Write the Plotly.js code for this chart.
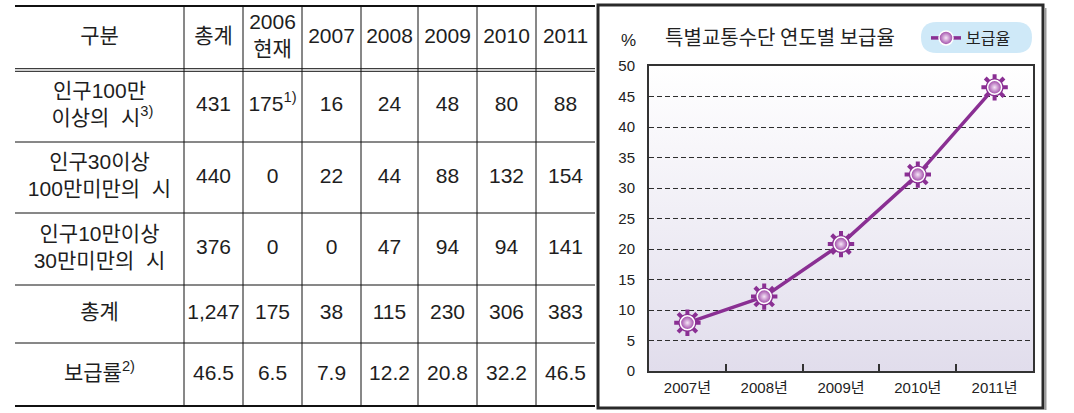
<!DOCTYPE html>
<html>
<head>
<meta charset="utf-8">
<script src="https://cdn.plot.ly/plotly-3.0.1.min.js"></script>
<style>
html,body{margin:0;padding:0;background:#fff;}
#chart{width:1074px;height:413px;}
</style>
</head>
<body>
<div id="chart"></div>
<script>
// ---------------- DATA ----------------
const colHeaders = ['구분', '총계', '2006<br>현재', '2007', '2008', '2009', '2010', '2011'];
const rowLabels = [
  '인구100만<br> 이상의\u00a0\u00a0시<sup>3)</sup>',
  '인구30이상<br>100만미만의\u00a0\u00a0시',
  '인구10만이상<br>30만미만의\u00a0\u00a0시',
  '총계',
  '보급률<sup>2)</sup>'
];
// values: 총계, 2006, 2007, 2008, 2009, 2010, 2011
const popOver100  = [431, 175, 16, 24, 48, 80, 88];
const pop30to100  = [440, 0, 22, 44, 88, 132, 154];
const pop10to30   = [376, 0, 0, 47, 94, 94, 141];
const totalRow    = [1247, 175, 38, 115, 230, 306, 383];
const rateRow     = [46.5, 6.5, 7.9, 12.2, 20.8, 32.2, 46.5];
const footnoteRow = 0, footnoteCol = 1, footnoteMark = '1)';

const chartYears = ['2007년', '2008년', '2009년', '2010년', '2011년'];
const chartRate = rateRow.slice(2);          // 2007..2011 보급률
const seriesName = '보급율';
const chartTitle = '특별교통수단 연도별 보급율';

// ---------------- LAYOUT GEOMETRY ----------------
const W = 1074, H = 413;
const px = x => x / W;
const py = y => 1 - y / H;
const FONT = 'Liberation Sans, "Noto Sans CJK KR", sans-serif';
const KFONT = '"Noto Sans CJK KR", Liberation Sans, sans-serif';
const TXT = '#1e1e1e';
const PURPLE = '#8a2f93';

// table box in page pixels; edges relative to it
const T = {left: 15, right: 595, top: 5, bottom: 407};
const colEdges = [0, 169, 228, 287, 346, 403, 462, 521, 580];
const rowEdges = [0, 65, 137, 208, 280, 338, 402];
const colMid = colEdges.slice(0, -1).map((e, i) => (e + colEdges[i + 1]) / 2);
const rowMid = rowEdges.slice(0, -1).map((e, i) => (e + rowEdges[i + 1]) / 2);

// chart plot area in page pixels
const P = {left: 649, right: 1033, top: 66, bottom: 371};

// ---------------- TABLE TEXT ----------------
const bodyRows = [popOver100, pop30to100, pop10to30, totalRow, rateRow];
const fmt = v => v >= 1000 ? v.toLocaleString('en-US') : String(v);
const tx = [], ty = [], tt = [];
colHeaders.forEach((h, c) => { tx.push(colMid[c]); ty.push(rowMid[0]); tt.push(h); });
bodyRows.forEach((row, r) => {
  tx.push(colMid[0]); ty.push(rowMid[r + 1]); tt.push(rowLabels[r]);
  row.forEach((v, c) => {
    let s = fmt(v);
    if (r === footnoteRow && c === footnoteCol) s += '<sup>' + footnoteMark + '</sup>';
    tx.push(colMid[c + 1]); ty.push(rowMid[r + 1]); tt.push(s);
  });
});

const tableTrace = {
  type: 'scatter', mode: 'text', xaxis: 'x2', yaxis: 'y2',
  x: tx, y: ty, text: tt, textposition: 'middle center',
  textfont: {family: FONT, size: 21, color: TXT},
  hoverinfo: 'skip', showlegend: false, cliponaxis: false
};

// ---------------- CHART TRACES ----------------
const xIdx = chartYears.map((_, i) => i);
const knobTrace = {
  type: 'scatter', mode: 'markers', x: xIdx, y: chartRate, showlegend: false, hoverinfo: 'skip',
  marker: {symbol: 'asterisk-open', size: 22, color: PURPLE, line: {color: PURPLE, width: 4}}
};
const diskTrace = {
  type: 'scatter', mode: 'markers', x: xIdx, y: chartRate, showlegend: false, hoverinfo: 'skip',
  marker: {symbol: 'circle', size: 18, color: PURPLE, line: {width: 0}}
};
const lineTrace = {
  type: 'scatter', mode: 'lines+markers', name: seriesName, x: xIdx, y: chartRate,
  line: {color: PURPLE, width: 3.5},
  marker: {symbol: 'circle', size: 14, color: '#9c43a5',
           gradient: {type: 'radial', color: '#f6e6f7'},
           line: {color: '#ffffff', width: 1.5}}
};

// ---------------- SHAPES ----------------
const shapes = [];
const tl = (x0, y0, x1, y1, w, c) => shapes.push({type: 'line', xref: 'x2', yref: 'y2',
  x0, y0, x1, y1, line: {color: c || '#111', width: w}});
tl(0, 0, 580, 0, 4);
tl(0, rowEdges[6], 583, rowEdges[6], 4);
tl(0, rowEdges[1] - 1.3, 580, rowEdges[1] - 1.3, 1);
tl(0, rowEdges[1] + 1.3, 580, rowEdges[1] + 1.3, 1);
[2, 3, 4, 5].forEach(r => tl(0, rowEdges[r], 580, rowEdges[r], 1));
colEdges.slice(1, -1).forEach(c => tl(c, 0, c, rowEdges[6], 1));

// chart outer frame
shapes.push({type: 'rect', xref: 'paper', yref: 'paper', x0: px(598), x1: px(1043), y0: py(408), y1: py(5),
  line: {color: '#2a2a2a', width: 3}, layer: 'above'});
shapes.push({type: 'line', xref: 'paper', yref: 'paper', x0: px(1045.5), x1: px(1045.5), y0: py(410), y1: py(8),
  line: {color: '#9a9a9a', width: 2}});
// legend pill
(function () {
  const x0 = 921, x1 = 1032, y0 = 22, y1 = 53, r = 15.5, ym = (y0 + y1) / 2;
  const P_ = (x, y) => px(x) + ',' + py(y);
  const path = 'M' + P_(x0 + r, y0) + ' L' + P_(x1 - r, y0) +
    ' Q' + P_(x1, y0) + ' ' + P_(x1, ym) + ' Q' + P_(x1, y1) + ' ' + P_(x1 - r, y1) +
    ' L' + P_(x0 + r, y1) + ' Q' + P_(x0, y1) + ' ' + P_(x0, ym) + ' Q' + P_(x0, y0) + ' ' + P_(x0 + r, y0) + ' Z';
  shapes.push({type: 'path', xref: 'paper', yref: 'paper', path: path,
    fillcolor: '#cfe9f8', line: {width: 0}, layer: 'below'});
})();

// gradient plot background
const gradSvg = "<svg xmlns='http://www.w3.org/2000/svg' width='10' height='100' preserveAspectRatio='none' viewBox='0 0 10 100'>" +
  "<defs><linearGradient id='g' x1='0' y1='0' x2='0' y2='1'><stop offset='0' stop-color='#ffffff'/>" +
  "<stop offset='1' stop-color='#e1ddec'/></linearGradient></defs><rect width='10' height='100' fill='url(#g)'/></svg>";
const gradSrc = 'data:image/svg+xml;charset=utf-8,' + encodeURIComponent(gradSvg);

const layout = {
  width: W, height: H,
  margin: {l: 0, r: 0, t: 0, b: 0, pad: 0},
  paper_bgcolor: '#ffffff', plot_bgcolor: 'rgba(0,0,0,0)',
  font: {family: FONT, color: TXT},
  title: {text: chartTitle, x: px(780), y: py(38), xanchor: 'center', yanchor: 'middle',
          xref: 'paper', yref: 'paper', font: {family: KFONT, size: 20, color: '#222'}},
  showlegend: true,
  legend: {x: px(926), y: py(38), xanchor: 'left', yanchor: 'middle', bgcolor: 'rgba(0,0,0,0)',
           borderwidth: 0, font: {family: KFONT, size: 16, color: '#222'}},
  xaxis: {domain: [px(P.left), px(P.right)], range: [-0.5, 4.5], anchor: 'y',
          tickmode: 'array', tickvals: xIdx, ticktext: chartYears, ticks: '',
          ticklabelstandoff: 2, tickfont: {family: FONT, size: 15, color: '#222'},
          showgrid: false, zeroline: false, showline: true, mirror: true,
          linecolor: '#333', linewidth: 2, fixedrange: true,
          minor: {tickmode: 'array', tickvals: [0.5, 1.5, 2.5, 3.5], ticks: 'inside',
                  ticklen: 7, tickwidth: 2, tickcolor: '#333', showgrid: false}},
  yaxis: {domain: [py(P.bottom), py(P.top)], range: [0, 50], anchor: 'x',
          tickmode: 'linear', tick0: 0, dtick: 5, ticks: '', ticklabelstandoff: 9,
          tickfont: {family: FONT, size: 15, color: '#222'},
          showgrid: true, gridcolor: '#2e2e2e', gridwidth: 1, griddash: '5px,3px',
          zeroline: false, showline: true, mirror: true, linecolor: '#333', linewidth: 2, fixedrange: true},
  xaxis2: {domain: [px(T.left), px(T.right)], range: [0, 580], anchor: 'y2', visible: false, fixedrange: true},
  yaxis2: {domain: [py(T.bottom), py(T.top)], range: [rowEdges[6], 0], anchor: 'x2', visible: false, fixedrange: true},
  annotations: [{text: '%', xref: 'paper', yref: 'paper', x: px(628), y: py(40), xanchor: 'center', yanchor: 'middle',
                 showarrow: false, font: {family: FONT, size: 17, color: '#222'}}],
  shapes: shapes,
  images: [{source: gradSrc, xref: 'paper', yref: 'paper', x: px(P.left), y: py(P.top),
            sizex: px(P.right) - px(P.left), sizey: py(P.top) - py(P.bottom),
            xanchor: 'left', yanchor: 'top', sizing: 'stretch', layer: 'below'}]
};

Plotly.newPlot('chart', [tableTrace, knobTrace, diskTrace, lineTrace], layout,
  {staticPlot: true, displayModeBar: false});
</script>
</body>
</html>
